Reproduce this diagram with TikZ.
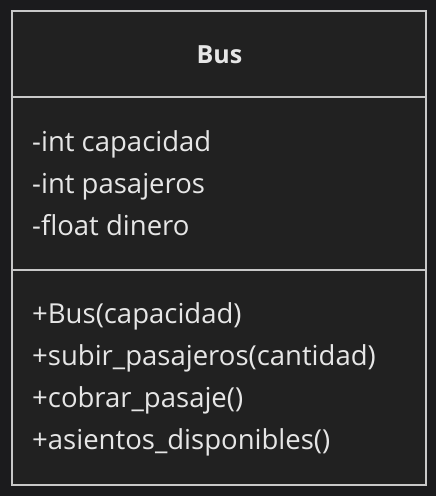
\documentclass[tikz,border=0pt]{standalone}
\usepackage{fontspec}
\setmainfont{Open Sans}
\definecolor{outerbg}{HTML}{1B1B1D}
\definecolor{innerbg}{HTML}{212121}
\definecolor{edge}{HTML}{C8C8C8}
\definecolor{txt}{HTML}{E6E6E6}
\tikzset{
  member/.style={anchor=base west, text=txt, font=\fontsize{27.5}{32}\selectfont, inner sep=0pt},
  titletext/.style={anchor=base, text=txt, font=\fontsize{25}{30}\selectfont\bfseries, inner sep=0pt},
  frame/.style={draw=edge, line width=1.6pt},
}
\begin{document}
\begin{tikzpicture}[x=1pt,y=-1pt]
\fill[outerbg] (0,0) rectangle (436,496);
\useasboundingbox (0,0) rectangle (436,496);
\draw[frame, fill=innerbg] (12,11) rectangle (426,485);
\coordinate (d1l) at (12,97); \coordinate (d1r) at (426,97);
\coordinate (d2l) at (12,270); \coordinate (d2r) at (426,270);
\draw[frame] (d1l) -- (d1r);
\draw[frame] (d2l) -- (d2r);
\node[titletext] (title) at (219.5,63) {Bus};
\node[member] (a1) at (32,151) {-int capacidad};
\node[member] (a2) at (32,193) {-int pasajeros};
\node[member] (a3) at (32,235) {-float dinero};
\node[member] (m1) at (32,323) {+Bus(capacidad)};
\node[member] (m2) at (32,365) {+subir\_pasajeros(cantidad)};
\node[member] (m3) at (32,407) {+cobrar\_pasaje()};
\node[member] (m4) at (32,449) {+asientos\_disponibles()};
\end{tikzpicture}
\end{document}
